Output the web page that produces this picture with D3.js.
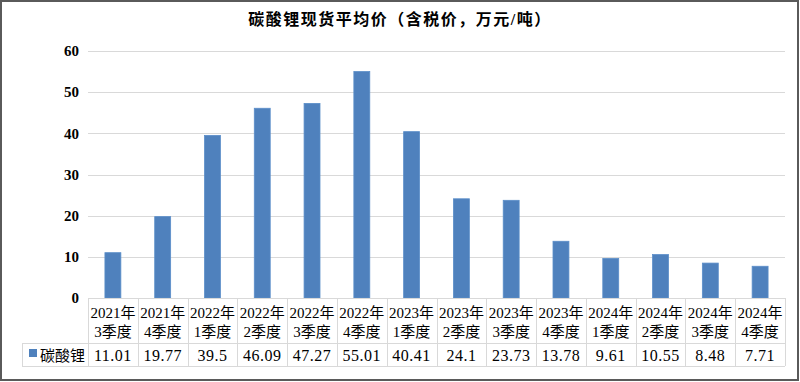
<!DOCTYPE html>
<html>
<head>
<meta charset="utf-8">
<script src="https://cdn.jsdelivr.net/npm/d3@7"></script>
<style>
  body { margin: 0; background: #fff; }
  svg { display: block; }
</style>
</head>
<body>
<svg id="chart" width="800" height="382"></svg>
<script>
// chart data
var years = ["2021年", "2021年", "2022年", "2022年", "2022年", "2022年", "2023年",
             "2023年", "2023年", "2023年", "2024年", "2024年", "2024年", "2024年"];
var quarters = ["3季度", "4季度", "1季度", "2季度", "3季度", "4季度", "1季度",
                "2季度", "3季度", "4季度", "1季度", "2季度", "3季度", "4季度"];
var prices = [11.01, 19.77, 39.5, 46.09, 47.27, 55.01, 40.41, 24.1, 23.73, 13.78, 9.61, 10.55, 8.48, 7.71];
var priceLabels = ["11.01", "19.77", "39.5", "46.09", "47.27", "55.01", "40.41", "24.1", "23.73", "13.78", "9.61", "10.55", "8.48", "7.71"];
var yTicks = [0, 10, 20, 30, 40, 50, 60];
var seriesName = "碳酸锂";
var title = "碳酸锂现货平均价（含税价，万元/吨）";

var barColor = "#4f81bd";
var gridColor = "#d9d9d9";
var font = "'Liberation Serif', 'Noto Sans CJK SC', serif";

var svg = d3.select("#chart");

// outer frame
svg.append("rect")
    .attr("x", 1).attr("y", 1)
    .attr("width", 797).attr("height", 379)
    .style("fill", "#fff")
    .style("stroke", "#5a5a5a")
    .style("stroke-width", 2);

// title
svg.append("text")
    .attr("x", 400).attr("y", 25)
    .attr("text-anchor", "middle")
    .style("font-family", font)
    .style("font-size", "16px")
    .style("font-weight", "bold")
    .style("letter-spacing", "1.5px")
    .text(title);

// plot area (window.top is reserved, so names are prefixed)
var plotLeft = 88, plotRight = 785, plotTop = 51, plotBottom = 298;

var idx = d3.range(prices.length);

var x = d3.scaleBand()
    .domain(idx)
    .range([plotLeft, plotRight])
    .paddingInner(0.68)
    .paddingOuter(0.34);

var col = d3.scaleBand()
    .domain(idx)
    .range([plotLeft, plotRight]);

var y = d3.scaleLinear()
    .domain([0, 60])
    .range([plotBottom, plotTop]);

// gridlines
svg.selectAll("line.grid")
    .data(yTicks.filter(function(d){ return d > 0; }))
    .enter()
    .append("line")
    .attr("class", "grid")
    .attr("x1", plotLeft).attr("x2", plotRight)
    .attr("y1", function(d){ return Math.round(y(d)) + 0.5; })
    .attr("y2", function(d){ return Math.round(y(d)) + 0.5; })
    .style("stroke", gridColor)
    .style("stroke-width", 1);

// y axis labels
var yAxis = d3.axisLeft(y).tickValues(yTicks).tickSize(0).tickPadding(9);
var gy = svg.append("g")
    .attr("transform", "translate(" + plotLeft + ",0)")
    .call(yAxis);
gy.select(".domain").remove();
gy.selectAll("text")
    .style("font-family", font)
    .style("font-size", "15px")
    .style("font-weight", "bold")
    .style("fill", "#000");

// bars
svg.selectAll("rect.bar")
    .data(prices)
    .enter()
    .append("rect")
    .attr("class", "bar")
    .attr("x", function(d, i){ return x(i); })
    .attr("y", function(d){ return y(d); })
    .attr("width", x.bandwidth())
    .attr("height", function(d){ return plotBottom - y(d); })
    .style("fill", barColor)
    .style("stroke", "#5b8ec9")
    .style("stroke-width", 0.8);

// data table
var tableTop = plotBottom, rowSplit = 343, tableBottom = 366, tableLeft = 22;
var tbl = svg.append("g");

function hline(x1, x2, yy) {
    tbl.append("line")
        .attr("x1", x1).attr("x2", x2)
        .attr("y1", yy).attr("y2", yy)
        .style("stroke", gridColor);
}
function vline(xx, y1, y2) {
    tbl.append("line")
        .attr("x1", xx).attr("x2", xx)
        .attr("y1", y1).attr("y2", y2)
        .style("stroke", gridColor);
}

hline(plotLeft, plotRight, tableTop + 0.5);
hline(tableLeft, plotRight, rowSplit + 0.5);
hline(tableLeft, plotRight, tableBottom + 0.5);
vline(tableLeft + 0.5, rowSplit, tableBottom);
idx.forEach(function(i){
    vline(Math.round(col(i)) + 0.5, tableTop, tableBottom);
});
vline(plotRight + 0.5, tableTop, tableBottom);

// category labels
var cats = tbl.selectAll("text.cat")
    .data(idx)
    .enter()
    .append("text")
    .attr("class", "cat")
    .attr("text-anchor", "middle")
    .style("font-family", font)
    .style("font-size", "15px")
    .style("fill", "#000");
cats.append("tspan")
    .attr("x", function(i){ return col(i) + col.bandwidth() / 2; })
    .attr("y", 318)
    .text(function(i){ return years[i]; });
cats.append("tspan")
    .attr("x", function(i){ return col(i) + col.bandwidth() / 2; })
    .attr("y", 337)
    .text(function(i){ return quarters[i]; });

// value row
tbl.selectAll("text.val")
    .data(idx)
    .enter()
    .append("text")
    .attr("class", "val")
    .attr("x", function(i){ return col(i) + col.bandwidth() / 2; })
    .attr("y", 361)
    .attr("text-anchor", "middle")
    .style("font-family", font)
    .style("font-size", "16px")
    .style("letter-spacing", "0.5px")
    .style("fill", "#000")
    .text(function(i){ return priceLabels[i]; });

// legend key
tbl.append("rect")
    .attr("x", 29).attr("y", 349)
    .attr("width", 8).attr("height", 8)
    .style("fill", barColor);
tbl.append("text")
    .attr("x", 40).attr("y", 361)
    .style("font-family", font)
    .style("font-size", "15px")
    .style("fill", "#000")
    .text(seriesName);
</script>
</body>
</html>
